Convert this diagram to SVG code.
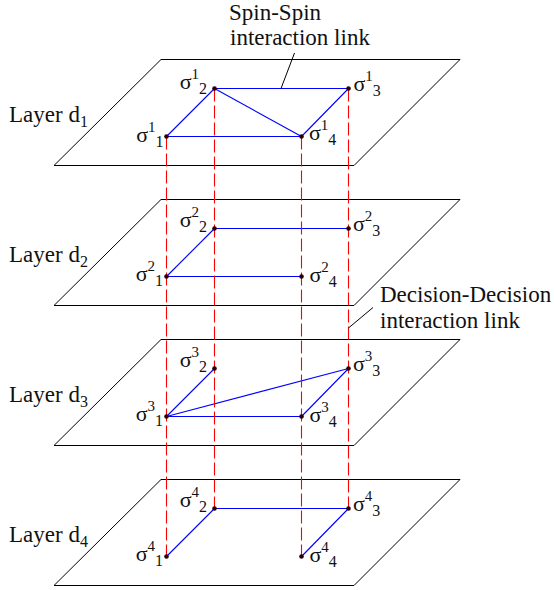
<svg xmlns="http://www.w3.org/2000/svg" width="555" height="590" viewBox="0 0 555 590">
<defs>
<style>
.plane{fill:none;stroke:#000;stroke-width:1}
.e{stroke:#0000ff;stroke-width:1.1;fill:none}
.dd{stroke:#ff0000;stroke-width:1.1;stroke-dasharray:13 4;fill:none}
.ptr{stroke:#000;stroke-width:1;fill:none}
.dot{fill:#2a0000}
text{font-family:"Liberation Serif","Times New Roman",serif;fill:#111}
.lbl{font-size:23px}
.s{font-size:22px}
.sup{font-size:15px}
.sub{font-size:16px}
.end{text-anchor:end}
</style>
</defs>
<rect width="555" height="590" fill="#fff"/>

<g id="planes">
<polygon id="layer1" class="plane" points="161,59.5 460,59.5 354,165.5 54,165.5"/>
<polygon id="layer2" class="plane" points="161,199.5 460,199.5 354,305.5 54,305.5"/>
<polygon id="layer3" class="plane" points="161,339.5 460,339.5 354,445.5 54,445.5"/>
<polygon id="layer4" class="plane" points="161,479.5 460,479.5 354,585.5 54,585.5"/>
</g>

<g id="layer-labels">
<text class="lbl" x="9" y="121.7">Layer d<tspan class="sub" dy="5">1</tspan></text>
<text class="lbl" x="9" y="261.7">Layer d<tspan class="sub" dy="5">2</tspan></text>
<text class="lbl" x="9" y="401.7">Layer d<tspan class="sub" dy="5">3</tspan></text>
<text class="lbl" x="9" y="541.7">Layer d<tspan class="sub" dy="5">4</tspan></text>
</g>

<g id="connectors">
<!-- layer 1 spin-spin links -->
<line class="e" x1="166.5" y1="136.5" x2="214.5" y2="88.5"/>
<line class="e" x1="214.5" y1="88.5" x2="348.5" y2="88.5"/>
<line class="e" x1="214.5" y1="88.5" x2="301.5" y2="136.5"/>
<line class="e" x1="348.5" y1="88.5" x2="301.5" y2="136.5"/>
<line class="e" x1="166.5" y1="136.5" x2="301.5" y2="136.5"/>
<!-- layer 2 -->
<line class="e" x1="166.5" y1="276.5" x2="214.5" y2="228.5"/>
<line class="e" x1="214.5" y1="228.5" x2="348.5" y2="228.5"/>
<line class="e" x1="166.5" y1="276.5" x2="301.5" y2="276.5"/>
<!-- layer 3 -->
<line class="e" x1="166.5" y1="416.5" x2="214.5" y2="368.5"/>
<line class="e" x1="166.5" y1="416.5" x2="348.5" y2="368.5"/>
<line class="e" x1="166.5" y1="416.5" x2="301.5" y2="416.5"/>
<line class="e" x1="348.5" y1="368.5" x2="301.5" y2="416.5"/>
<!-- layer 4 -->
<line class="e" x1="166.5" y1="556.5" x2="214.5" y2="508.5"/>
<line class="e" x1="214.5" y1="508.5" x2="348.5" y2="508.5"/>
<line class="e" x1="348.5" y1="508.5" x2="301.5" y2="556.5"/>
<!-- decision-decision links -->
<line class="dd" x1="166.5" y1="136.5" x2="166.5" y2="556.5"/>
<line class="dd" x1="214.5" y1="88.5" x2="214.5" y2="508.5"/>
<line class="dd" x1="301.5" y1="136.5" x2="301.5" y2="556.5"/>
<line class="dd" x1="348.5" y1="88.5" x2="348.5" y2="508.5"/>
<!-- annotation pointers -->
<line class="ptr" x1="281" y1="88.5" x2="294.5" y2="53"/>
<line class="ptr" x1="348.5" y1="328" x2="373" y2="307.5"/>
</g>

<g id="n1_1"><circle class="dot" cx="166.5" cy="136.5" r="2.3"/><text class="s end" x="163.5" y="141.5">σ<tspan class="sup" dy="-10">1</tspan><tspan class="sub" dy="15">1</tspan></text></g>
<g id="n1_2"><circle class="dot" cx="214.5" cy="88.5" r="2.3"/><text class="s end" x="207" y="88.5">σ<tspan class="sup" dy="-10">1</tspan><tspan class="sub" dy="15">2</tspan></text></g>
<g id="n1_3"><circle class="dot" cx="348.5" cy="88.5" r="2.3"/><text class="s" x="353.5" y="90.5">σ<tspan class="sup" dy="-10">1</tspan><tspan class="sub" dy="15">3</tspan></text></g>
<g id="n1_4"><circle class="dot" cx="301.5" cy="136.5" r="2.3"/><text class="s" x="309" y="140">σ<tspan class="sup" dy="-10">1</tspan><tspan class="sub" dy="15">4</tspan></text></g>

<g id="n2_1"><circle class="dot" cx="166.5" cy="276.5" r="2.3"/><text class="s end" x="163" y="280.5">σ<tspan class="sup" dy="-10">2</tspan><tspan class="sub" dy="15">1</tspan></text></g>
<g id="n2_2"><circle class="dot" cx="214.5" cy="228.5" r="2.3"/><text class="s end" x="207" y="226.5">σ<tspan class="sup" dy="-10">2</tspan><tspan class="sub" dy="15">2</tspan></text></g>
<g id="n2_3"><circle class="dot" cx="348.5" cy="228.5" r="2.3"/><text class="s" x="353" y="230.5">σ<tspan class="sup" dy="-10">2</tspan><tspan class="sub" dy="15">3</tspan></text></g>
<g id="n2_4"><circle class="dot" cx="301.5" cy="276.5" r="2.3"/><text class="s" x="309.5" y="282">σ<tspan class="sup" dy="-10">2</tspan><tspan class="sub" dy="15">4</tspan></text></g>

<g id="n3_1"><circle class="dot" cx="166.5" cy="416.5" r="2.3"/><text class="s end" x="163" y="420.5">σ<tspan class="sup" dy="-10">3</tspan><tspan class="sub" dy="15">1</tspan></text></g>
<g id="n3_2"><circle class="dot" cx="214.5" cy="368.5" r="2.3"/><text class="s end" x="207" y="366.5">σ<tspan class="sup" dy="-10">3</tspan><tspan class="sub" dy="15">2</tspan></text></g>
<g id="n3_3"><circle class="dot" cx="348.5" cy="368.5" r="2.3"/><text class="s" x="353" y="370.5">σ<tspan class="sup" dy="-10">3</tspan><tspan class="sub" dy="15">3</tspan></text></g>
<g id="n3_4"><circle class="dot" cx="301.5" cy="416.5" r="2.3"/><text class="s" x="309.5" y="422">σ<tspan class="sup" dy="-10">3</tspan><tspan class="sub" dy="15">4</tspan></text></g>

<g id="n4_1"><circle class="dot" cx="166.5" cy="556.5" r="2.3"/><text class="s end" x="163" y="560.5">σ<tspan class="sup" dy="-10">4</tspan><tspan class="sub" dy="15">1</tspan></text></g>
<g id="n4_2"><circle class="dot" cx="214.5" cy="508.5" r="2.3"/><text class="s end" x="207" y="506.5">σ<tspan class="sup" dy="-10">4</tspan><tspan class="sub" dy="15">2</tspan></text></g>
<g id="n4_3"><circle class="dot" cx="348.5" cy="508.5" r="2.3"/><text class="s" x="353" y="510.5">σ<tspan class="sup" dy="-10">4</tspan><tspan class="sub" dy="15">3</tspan></text></g>
<g id="n4_4"><circle class="dot" cx="301.5" cy="556.5" r="2.3"/><text class="s" x="309.5" y="562">σ<tspan class="sup" dy="-10">4</tspan><tspan class="sub" dy="15">4</tspan></text></g>

<g id="annotations">
<text class="lbl" x="229" y="19.5">Spin-Spin</text>
<text class="lbl" x="230" y="45">interaction link</text>
<text class="lbl" x="380" y="301.7">Decision-Decision</text>
<text class="lbl" x="380" y="327.5">interaction link</text>
</g>
</svg>
